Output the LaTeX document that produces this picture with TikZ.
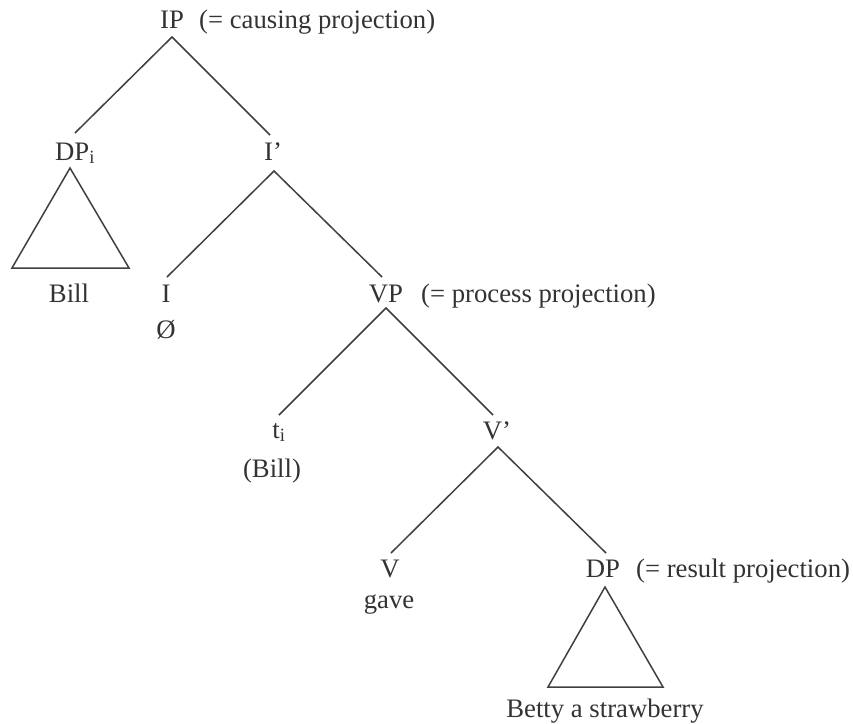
\documentclass[tikz,border=0pt]{standalone}
\usepackage{fontspec}
\setmainfont{Liberation Serif}
\definecolor{ink}{HTML}{333333}
\definecolor{edge}{HTML}{404040}
\begin{document}
\begin{tikzpicture}[x=1pt,y=-1pt,
  lab/.style={anchor=base,inner sep=0pt,text=ink,font=\fontsize{26.7}{32}\selectfont},
  note/.style={anchor=base west,inner sep=0pt,text=ink,font=\fontsize{26.7}{32}\selectfont},
  branch/.style={draw=edge,line width=1.5pt},
  tri/.style={draw=edge,line width=1.5pt,line join=miter}]
\useasboundingbox (0,0) rectangle (853,723);
\fill[white] (0,0) rectangle (853,723);
% labels
\node[lab] (IP) at (172,28) {IP};
\node[note] (IPn) at (199,28) {(= causing projection)};
\node[lab,anchor=base west] (DPi) at (55,160) {DP\textsubscript{i}};
\node[lab] (Ibar) at (273,160) {I’};
\node[lab] (Bill) at (69,302) {Bill};
\node[lab] (I) at (166,302) {I};
\node[lab] (Null) at (166,338) {Ø};
\node[lab] (VP) at (386,302) {VP};
\node[note] (VPn) at (421,302) {(= process projection)};
\node[lab] (ti) at (279,438) {t\textsubscript{i}};
\node[lab] (tiB) at (272,477) {(Bill)};
\node[lab] (Vbar) at (497,439) {V’};
\node[lab] (V) at (390,577) {V};
\node[lab] (gave) at (389,608) {gave};
\node[lab] (DP) at (603,577) {DP};
\node[note] (DPn) at (636,577) {(= result projection)};
\node[lab] (Betty) at (605,717) {Betty a strawberry};
% connector end points
\coordinate (IPb) at (172,37);
\coordinate (DPit) at (75,133);
\coordinate (Ibart) at (270,135);
\coordinate (Ibarb) at (274,171);
\coordinate (It) at (167,277);
\coordinate (VPt) at (382,277);
\coordinate (VPb) at (386,308);
\coordinate (tit) at (279,415);
\coordinate (Vbart) at (493,415);
\coordinate (Vbarb) at (498,447);
\coordinate (Vt) at (391,553);
\coordinate (DPt) at (606,553);
% triangles
\coordinate (T1a) at (70,168);
\coordinate (T1l) at (12,268);
\coordinate (T1r) at (129,268);
\coordinate (T2a) at (605,587);
\coordinate (T2l) at (548,687);
\coordinate (T2r) at (663,687);
% branches
\draw[branch] (DPit) -- (IPb) -- (Ibart);
\draw[branch] (It) -- (Ibarb) -- (VPt);
\draw[branch] (tit) -- (VPb) -- (Vbart);
\draw[branch] (Vt) -- (Vbarb) -- (DPt);
\draw[tri] (T1a) -- (T1l) -- (T1r) -- cycle;
\draw[tri] (T2a) -- (T2l) -- (T2r) -- cycle;
\end{tikzpicture}
\end{document}
